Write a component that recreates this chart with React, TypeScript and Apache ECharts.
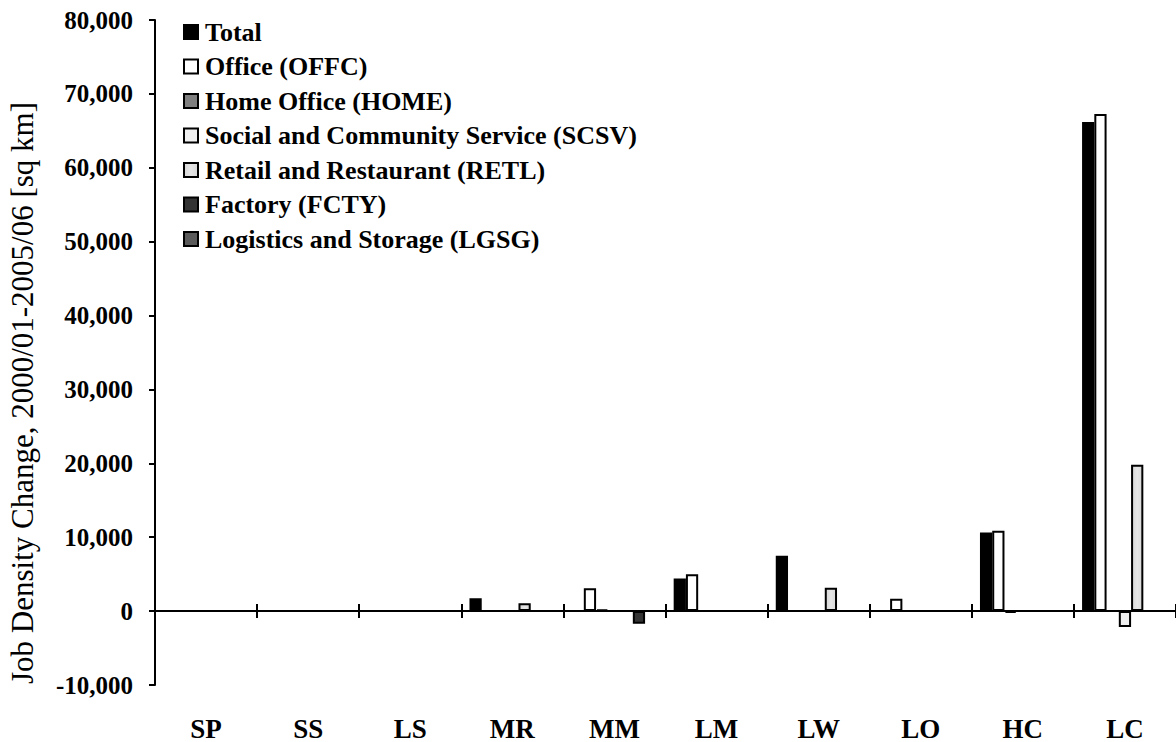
import React, { useEffect, useRef } from "react";
import * as echarts from "echarts";

const categories = ["SP", "SS", "LS", "MR", "MM", "LM", "LW", "LO", "HC", "LC"];
const seriesNames = [
  "Total",
  "Office (OFFC)",
  "Home Office (HOME)",
  "Social and Community Service (SCSV)",
  "Retail and Restaurant (RETL)",
  "Factory (FCTY)",
  "Logistics and Storage (LGSG)",
];
const totalValues = [0, 0, 0, 1750, 0, 4430, 7500, 0, 10630, 66180];
const offcValues = [0, 0, 0, 0, 3100, 5000, 0, 1660, 10860, 67290];
const homeValues = [0, 0, 0, 0, 250, 0, 0, 0, -250, 0];
const scsvValues = [0, 0, 0, 0, 0, 0, 0, 0, 0, -2150];
const retlValues = [0, 0, 0, 1050, 0, 0, 3150, 0, 0, 19800];
const fctyValues = [0, 0, 0, 0, -1700, 0, 0, 0, 0, 0];
const lgsgValues = [0, 0, 0, 0, 0, 0, 0, 0, 0, 0];
const yTicks = [-10000, 0, 10000, 20000, 30000, 40000, 50000, 60000, 70000, 80000];
const yTitle = "Job Density Change, 2000/01-2005/06 [sq km]";

const FONT = "'Liberation Serif', 'Times New Roman', serif";

export default function App() {
  const ref = useRef<HTMLDivElement>(null);
  useEffect(() => {
    if (!ref.current) return;
    const chart = echarts.init(ref.current, null, { renderer: "svg" });
    const fills = [
      "#000000",
      "#ffffff",
      "#808080",
      "#f0f0f0",
      new echarts.graphic.LinearGradient(0, 0, 1, 0, [
        { offset: 0, color: "#d6d6d6" },
        { offset: 0.5, color: "#e6e6e6" },
        { offset: 1, color: "#d9d9d9" },
      ]),
      "#333333",
      "#5a5a5a",
    ];
    const dataSets = [totalValues, offcValues, homeValues, scsvValues, retlValues, fctyValues, lgsgValues];
    const series = seriesNames.map((name, i) => ({
      name,
      type: "bar",
      xAxisIndex: 0,
      yAxisIndex: 0,
      data: dataSets[i],
      barGap: "0%",
      barCategoryGap: "16%",
      itemStyle: { color: fills[i], borderColor: "#000", borderWidth: 2 },
    }));
    const yMin = yTicks[0];
    const yMax = yTicks[yTicks.length - 1];
    chart.setOption({
      animation: false,
      backgroundColor: "#ffffff",
      textStyle: { fontFamily: FONT },
      grid: { left: 155, top: 20, width: 1023, height: 671, containLabel: false },
      legend: {
        orient: "vertical",
        left: 178,
        top: 13,
        itemWidth: 14,
        itemHeight: 14,
        itemGap: 6.5,
        icon: "rect",
        data: seriesNames,
        textStyle: {
          fontFamily: FONT,
          fontWeight: "bold",
          fontSize: 26,
          lineHeight: 28,
          color: "#000",
          padding: [0, 0, 0, 2],
        },
      },
      xAxis: [
        {
          type: "category",
          data: categories,
          position: "bottom",
          axisLine: { show: true, onZero: true, onZeroAxisIndex: 0, lineStyle: { color: "#000", width: 2 } },
          axisTick: { show: true, inside: false, length: 7, lineStyle: { color: "#000", width: 2 } },
          axisLabel: { show: false },
          splitLine: { show: false },
        },
        {
          type: "category",
          data: categories,
          position: "bottom",
          axisLine: { show: true, onZero: true, onZeroAxisIndex: 1, lineStyle: { color: "#000", width: 2 } },
          axisTick: { show: true, inside: true, length: 7, lineStyle: { color: "#000", width: 2 } },
          axisLabel: { show: false },
          splitLine: { show: false },
        },
        {
          type: "category",
          data: categories,
          position: "bottom",
          axisLine: { show: false, onZero: false },
          axisTick: { show: false },
          axisLabel: {
            show: true,
            margin: 30,
            fontFamily: FONT,
            fontWeight: "bold",
            fontSize: 27,
            color: "#000",
          },
          splitLine: { show: false },
        },
      ],
      yAxis: [
        {
          type: "value",
          min: yMin,
          max: yMax,
          interval: 10000,
          axisLine: { show: true, lineStyle: { color: "#000", width: 2 } },
          axisTick: { show: true, inside: false, length: 6, lineStyle: { color: "#000", width: 2 } },
          splitLine: { show: false },
          axisLabel: {
            margin: 22,
            fontFamily: FONT,
            fontWeight: "bold",
            fontSize: 25,
            color: "#000",
            formatter: (v: number) => v.toLocaleString("en-US"),
          },
        },
        {
          type: "value",
          min: yMin,
          max: yMax,
          interval: 10000,
          position: "left",
          show: false,
          axisLine: { show: false },
          axisTick: { show: false },
          axisLabel: { show: false },
          splitLine: { show: false },
        },
      ],
      graphic: [
        {
          type: "text",
          x: 22,
          y: 393,
          rotation: Math.PI / 2,
          style: {
            text: yTitle,
            fontFamily: FONT,
            fontSize: 31,
            fill: "#000",
            align: "center",
            verticalAlign: "middle",
          },
        },
      ],
      series,
    });
    return () => chart.dispose();
  }, []);
  return (
    <div
      ref={ref}
      style={{ position: "absolute", left: 0, top: 0, width: 1176, height: 742 }}
    />
  );
}
